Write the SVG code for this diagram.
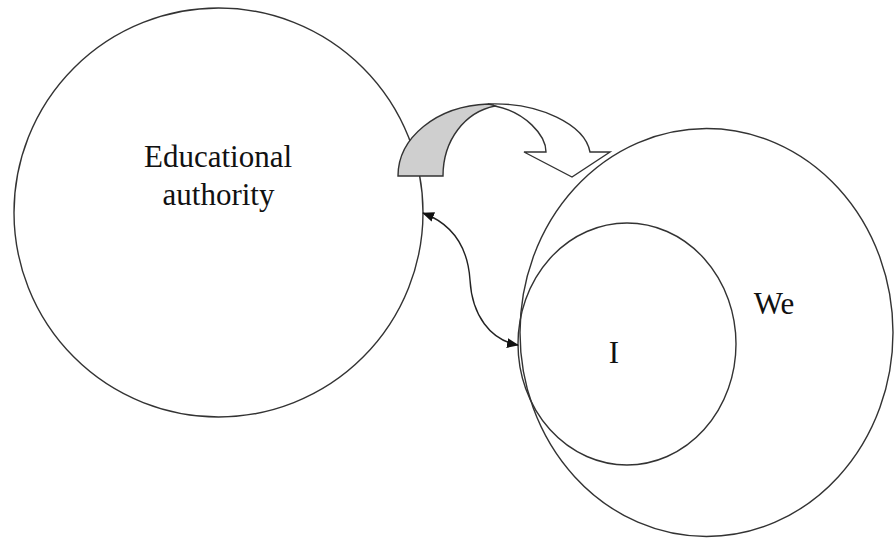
<svg xmlns="http://www.w3.org/2000/svg" width="894" height="539" viewBox="0 0 894 539">
  <style>
    .ring { fill: none; stroke: #333; stroke-width: 1.4; }
    .label { font-family: "Liberation Serif", "Times New Roman", serif; font-size: 31px; fill: #111; text-anchor: middle; }
    .link { fill: none; stroke: #222; stroke-width: 1.4; }
    .band { stroke: #333; stroke-width: 1.4; stroke-linejoin: miter; }
  </style>
  <defs>
    <marker id="tip" viewBox="0 0 12 10" refX="11" refY="5" markerWidth="12" markerHeight="10" markerUnits="userSpaceOnUse" orient="auto-start-reverse">
      <path d="M0,0 L12,5 L0,10 Z" fill="#111"/>
    </marker>
  </defs>
  <rect width="894" height="539" fill="#fff"/>

  <g id="authority">
    <circle class="ring" cx="218.5" cy="212.5" r="204.5"/>
    <text class="label" x="218" y="167">Educational</text>
    <text class="label" x="218.5" y="205">authority</text>
  </g>

  <g id="we">
    <ellipse class="ring" cx="706.5" cy="332.5" rx="186.5" ry="204"/>
    <text class="label" x="774" y="314">We</text>
  </g>

  <g id="i">
    <ellipse class="ring" cx="627" cy="344" rx="109" ry="121"/>
    <text class="label" x="614" y="363">I</text>
  </g>

  <g id="connectors">
    <!-- curved block arrow from the authority towards We -->
    <path class="band" fill="#fff" d="M488,104 C540,102 585,125 590,152 L610,152 L572,177 L524,152 L546,152 C546,135 525,112 495,106 Z"/>
    <path class="band" fill="#cfcfcf" d="M398,176 L443,176 C443,140 465,112 495,106 C490,104 490,104 488,104 C436,106 398,138 398,176 Z"/>
    <!-- two-way link between the authority and I -->
    <path class="link" d="M423,213 C455,225 468,250 470,280 C472,315 490,340 518,345" marker-start="url(#tip)" marker-end="url(#tip)"/>
  </g>
</svg>
